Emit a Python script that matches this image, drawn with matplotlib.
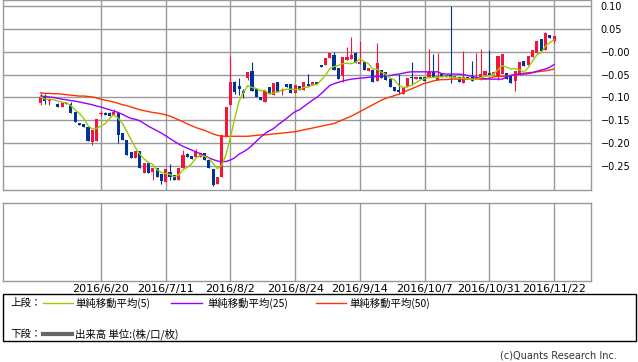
import numpy as np
import pandas as pd
import matplotlib
matplotlib.use("Agg")
import matplotlib.pyplot as plt
from matplotlib.lines import Line2D
from matplotlib.patches import Rectangle

plt.rcParams['font.family'] = ['Noto Sans CJK JP', 'DejaVu Sans']

nan = np.nan

# daily candles (index 0 = 2016/5/31 ... 119 = 2016/11/22)
opens = [-0.112, -0.097, -0.108, nan, -0.115, -0.121, -0.112, -0.115, -0.132, -0.156,
         -0.158, -0.165, -0.197, -0.196, -0.136, -0.134, -0.134, -0.139, -0.134, -0.178,
         -0.193, -0.219, -0.232, -0.217, -0.265, -0.243, -0.263, -0.254, -0.268, -0.285,
         -0.263, -0.270, -0.281, -0.254, -0.224, -0.228, -0.230, -0.230, -0.222, -0.237,
         -0.257, -0.290, -0.274, -0.187, -0.117, -0.066, -0.075, -0.086, -0.058, -0.042,
         -0.082, -0.099, -0.110, -0.077, -0.095, -0.066, -0.086, -0.071, -0.071, -0.090,
         -0.075, -0.084, -0.071, -0.073, -0.066, -0.029, -0.029, -0.014, -0.007, -0.036,
         -0.053, -0.018, -0.016, -0.003, -0.027, -0.023, -0.042, -0.040, -0.064, -0.040,
         -0.045, -0.060, -0.077, -0.084, -0.093, -0.077, -0.056, -0.060, -0.056, -0.056,
         -0.056, -0.045, -0.062, -0.049, -0.051, -0.051, -0.053, -0.056, -0.069, -0.056,
         -0.056, -0.060, -0.060, -0.051, -0.047, -0.049, -0.053, -0.049, -0.047, -0.051,
         -0.064, -0.051, -0.020, -0.029, -0.012, -0.003, 0.028, 0.004, 0.036, 0.023]
highs = [-0.090, -0.092, -0.101, nan, -0.112, -0.112, -0.112, -0.110, -0.132, -0.156,
         -0.158, -0.165, -0.171, -0.147, -0.130, -0.132, -0.132, -0.126, -0.134, -0.178,
         -0.193, -0.219, -0.217, -0.217, -0.243, -0.243, -0.254, -0.254, -0.268, -0.257,
         -0.246, -0.270, -0.254, -0.215, -0.222, -0.228, -0.213, -0.222, -0.222, -0.237,
         -0.257, -0.274, -0.182, -0.121, -0.009, -0.064, -0.058, -0.082, -0.045, -0.023,
         -0.082, -0.099, -0.086, -0.077, -0.069, -0.066, -0.080, -0.071, -0.071, -0.073,
         -0.075, -0.066, -0.049, -0.066, -0.066, -0.029, -0.014, -0.003, -0.001, -0.036,
         -0.012, 0.010, 0.032, -0.001, 0.023, -0.023, -0.036, -0.040, 0.019, -0.040,
         -0.045, -0.060, -0.077, -0.049, -0.077, -0.058, -0.023, -0.056, -0.056, -0.056,
         0.005, -0.005, -0.003, -0.049, -0.051, 0.100, -0.053, -0.056, 0.002, -0.056,
         -0.020, -0.003, 0.006, -0.042, 0.004, -0.045, -0.009, -0.005, -0.047, -0.051,
         -0.042, -0.023, -0.020, -0.009, 0.004, 0.023, 0.028, 0.043, 0.036, 0.034]
lows = [-0.117, -0.115, -0.117, nan, -0.121, -0.121, -0.115, -0.134, -0.154, -0.160,
        -0.165, -0.196, -0.204, -0.196, -0.140, -0.139, -0.140, -0.139, -0.200, -0.193,
        -0.226, -0.232, -0.232, -0.254, -0.265, -0.265, -0.281, -0.274, -0.290, -0.285,
        -0.281, -0.281, -0.281, -0.254, -0.230, -0.235, -0.230, -0.230, -0.237, -0.254,
        -0.294, -0.290, -0.274, -0.187, -0.117, -0.093, -0.095, -0.101, -0.062, -0.086,
        -0.099, -0.106, -0.110, -0.090, -0.095, -0.088, -0.095, -0.077, -0.090, -0.090,
        -0.084, -0.084, -0.075, -0.073, -0.071, -0.034, -0.029, -0.014, -0.040, -0.060,
        -0.066, -0.018, -0.016, -0.025, -0.027, -0.040, -0.042, -0.066, -0.064, -0.058,
        -0.062, -0.077, -0.086, -0.093, -0.093, -0.077, -0.073, -0.060, -0.060, -0.064,
        -0.056, -0.056, -0.062, -0.056, -0.056, -0.069, -0.058, -0.066, -0.069, -0.060,
        -0.064, -0.060, -0.062, -0.051, -0.051, -0.049, -0.062, -0.049, -0.060, -0.069,
        -0.086, -0.051, -0.031, -0.029, -0.012, -0.003, 0.002, 0.004, 0.030, 0.020]
closes = [-0.099, -0.108, -0.106, nan, -0.121, -0.112, -0.115, -0.134, -0.154, -0.160,
          -0.165, -0.196, -0.171, -0.147, -0.134, -0.139, -0.140, -0.132, -0.182, -0.193,
          -0.226, -0.232, -0.217, -0.254, -0.243, -0.265, -0.254, -0.274, -0.283, -0.257,
          -0.274, -0.281, -0.254, -0.226, -0.230, -0.235, -0.219, -0.222, -0.237, -0.254,
          -0.292, -0.274, -0.182, -0.121, -0.066, -0.088, -0.082, -0.090, -0.045, -0.086,
          -0.099, -0.106, -0.086, -0.090, -0.069, -0.088, -0.086, -0.077, -0.090, -0.073,
          -0.084, -0.066, -0.075, -0.066, -0.071, -0.034, -0.014, -0.003, -0.040, -0.060,
          -0.012, -0.012, -0.007, -0.025, -0.023, -0.040, -0.036, -0.066, -0.025, -0.058,
          -0.062, -0.077, -0.086, -0.088, -0.077, -0.058, -0.058, -0.056, -0.060, -0.064,
          -0.045, -0.056, -0.053, -0.056, -0.056, -0.056, -0.058, -0.066, -0.056, -0.060,
          -0.064, -0.056, -0.049, -0.042, -0.051, -0.045, -0.009, -0.005, -0.060, -0.069,
          -0.042, -0.023, -0.031, -0.009, 0.004, 0.023, 0.002, 0.041, 0.030, 0.034]

# moving averages (25 and 50 day)
ma25 = [-0.097, -0.098, -0.099, -0.100, -0.102, -0.104, -0.105, -0.107, -0.108, -0.110,
        -0.112, -0.114, -0.116, -0.119, -0.121, -0.124, -0.127, -0.130, -0.133, -0.137,
        -0.142, -0.146, -0.148, -0.151, -0.157, -0.163, -0.168, -0.173, -0.178, -0.184,
        -0.190, -0.196, -0.202, -0.207, -0.211, -0.215, -0.219, -0.223, -0.227, -0.232,
        -0.236, -0.239, -0.241, -0.240, -0.237, -0.232, -0.224, -0.219, -0.213, -0.205,
        -0.196, -0.187, -0.179, -0.173, -0.168, -0.160, -0.153, -0.146, -0.138, -0.131,
        -0.127, -0.120, -0.113, -0.106, -0.100, -0.092, -0.083, -0.074, -0.070, -0.067,
        -0.064, -0.062, -0.060, -0.059, -0.058, -0.057, -0.056, -0.055, -0.054, -0.053,
        -0.053, -0.052, -0.050, -0.049, -0.047, -0.045, -0.044, -0.044, -0.044, -0.044,
        -0.044, -0.044, -0.044, -0.048, -0.049, -0.049, -0.049, -0.049, -0.050, -0.052,
        -0.054, -0.056, -0.058, -0.059, -0.060, -0.060, -0.060, -0.060, -0.055, -0.052,
        -0.050, -0.049, -0.049, -0.048, -0.046, -0.043, -0.040, -0.038, -0.034, -0.028]
ma50 = [-0.090, -0.091, -0.091, -0.092, -0.092, -0.093, -0.094, -0.095, -0.096, -0.097,
        -0.097, -0.098, -0.099, -0.101, -0.104, -0.106, -0.108, -0.110, -0.113, -0.116,
        -0.118, -0.121, -0.124, -0.127, -0.129, -0.131, -0.133, -0.134, -0.136, -0.138,
        -0.141, -0.145, -0.149, -0.153, -0.158, -0.162, -0.166, -0.169, -0.172, -0.176,
        -0.180, -0.183, -0.185, -0.185, -0.185, -0.185, -0.185, -0.185, -0.185, -0.184,
        -0.183, -0.182, -0.182, -0.181, -0.180, -0.179, -0.178, -0.177, -0.176, -0.175,
        -0.173, -0.171, -0.169, -0.167, -0.165, -0.163, -0.161, -0.159, -0.157, -0.153,
        -0.149, -0.145, -0.141, -0.136, -0.131, -0.126, -0.121, -0.116, -0.111, -0.106,
        -0.102, -0.099, -0.096, -0.093, -0.089, -0.085, -0.081, -0.077, -0.073, -0.069,
        -0.067, -0.064, -0.062, -0.061, -0.061, -0.060, -0.060, -0.060, -0.060, -0.060,
        -0.060, -0.060, -0.060, -0.060, -0.058, -0.055, -0.054, -0.054, -0.053, -0.052,
        -0.051, -0.049, -0.047, -0.046, -0.045, -0.044, -0.043, -0.042, -0.040, -0.038]

tick_pos = [14, 29, 44, 59, 74, 89, 104, 119]
tick_labels = ['2016/6/20', '2016/7/11', '2016/8/2', '2016/8/24', '2016/9/14',
               '2016/10/7', '2016/10/31', '2016/11/22']
y_ticks = [0.10, 0.05, 0.00, -0.05, -0.10, -0.15, -0.20, -0.25]
y_labels = ['0.10', '0.05', '\u22120.00', '\u22120.05', '\u22120.10',
            '\u22120.15', '\u22120.20', '\u22120.25']

W, H = 638, 362
fig = plt.figure(figsize=(W / 100, H / 100), dpi=100)

def fx(x):
    return x / W

def fy(y):
    return 1 - y / H

grid_c = '#999999'
up_c = '#f5143c'
down_c = '#00339a'

ax = fig.add_axes([fx(3), fy(190), fx(588), 190 / H])
n = len(closes)
idx = np.arange(n)
o = np.array(opens)
c = np.array(closes)
hi = np.array(highs)
lo = np.array(lows)

ax.vlines(tick_pos, -1, 1, color=grid_c, lw=1, zorder=0)
for t in y_ticks:
    ax.axhline(t, color=grid_c, lw=1, zorder=0)

for i in range(n):
    if np.isnan(c[i]):
        continue
    col = up_c if c[i] >= o[i] else down_c
    ax.vlines(i, lo[i], hi[i], color=col, lw=0.8, zorder=2)
    bot = min(o[i], c[i])
    h = max(abs(c[i] - o[i]), 0.0018)
    ax.bar(i, h, bottom=bot, width=0.72, color=col, lw=0, zorder=3)

ma5 = pd.Series(closes).ffill().rolling(5, min_periods=1).mean()
ax.plot(idx, ma50, color='#ff3300', lw=1, zorder=4)
ax.plot(idx, ma25, color='#9900ff', lw=1, zorder=4)
ax.plot(idx, ma5, color='#99cc00', lw=1, zorder=5)

ax.set_xlim(-8.7, 127.55)
ax.set_ylim(-0.3025, 0.1131)
ax.set_xticks([])
ax.yaxis.tick_right()
ax.set_yticks(y_ticks)
ax.set_yticklabels(y_labels, fontsize=7, family='DejaVu Sans')
ax.tick_params(axis='y', length=0, pad=7)
for s in ax.spines.values():
    s.set_color(grid_c)
    s.set_linewidth(1)

# lower panel (volume, empty)
ax2 = fig.add_axes([fx(3), fy(281), fx(588), 78 / H])
ax2.vlines(tick_pos, 0, 1, color=grid_c, lw=1)
ax2.set_xlim(-8.7, 127.55)
ax2.set_ylim(0, 1)
ax2.set_yticks([])
ax2.set_xticks(tick_pos)
ax2.set_xticklabels(tick_labels, fontsize=8, family='DejaVu Sans')
ax2.tick_params(axis='x', length=0, pad=2.5)
for s in ax2.spines.values():
    s.set_color(grid_c)
    s.set_linewidth(1)

# legend box
fig.patches.append(Rectangle((fx(3), fy(341)), fx(633), 47 / H, fill=False,
                             edgecolor='black', lw=1, transform=fig.transFigure))
fs = 7.5
row1, row2 = 303, 334
fig.text(fx(10), fy(row1), '上段：', fontsize=fs, va='center')
fig.text(fx(10), fy(row2), '下段：', fontsize=fs, va='center')
legend_items = [(43, 73, 75, '#99cc00', '単純移動平均(5)'),
                (171, 202, 207, '#9900ff', '単純移動平均(25)'),
                (316, 346, 349, '#ff3300', '単純移動平均(50)')]
for x0, x1, xt, col, lab in legend_items:
    fig.lines.append(Line2D([fx(x0), fx(x1)], [fy(row1), fy(row1)], color=col,
                            lw=1, transform=fig.transFigure))
    fig.text(fx(xt), fy(row1), lab, fontsize=fs, va='center')
fig.lines.append(Line2D([fx(43), fx(72)], [fy(row2), fy(row2)], color='#666666',
                        lw=3, transform=fig.transFigure))
fig.text(fx(75), fy(row2), '出来高 単位:(株/口/枚)', fontsize=fs, va='center')

fig.text(fx(617), fy(355), '(c)Quants Research Inc.', fontsize=7, ha='right',
         va='center', color='#333333', family='DejaVu Sans')

fig.savefig('out.png', dpi=100)
